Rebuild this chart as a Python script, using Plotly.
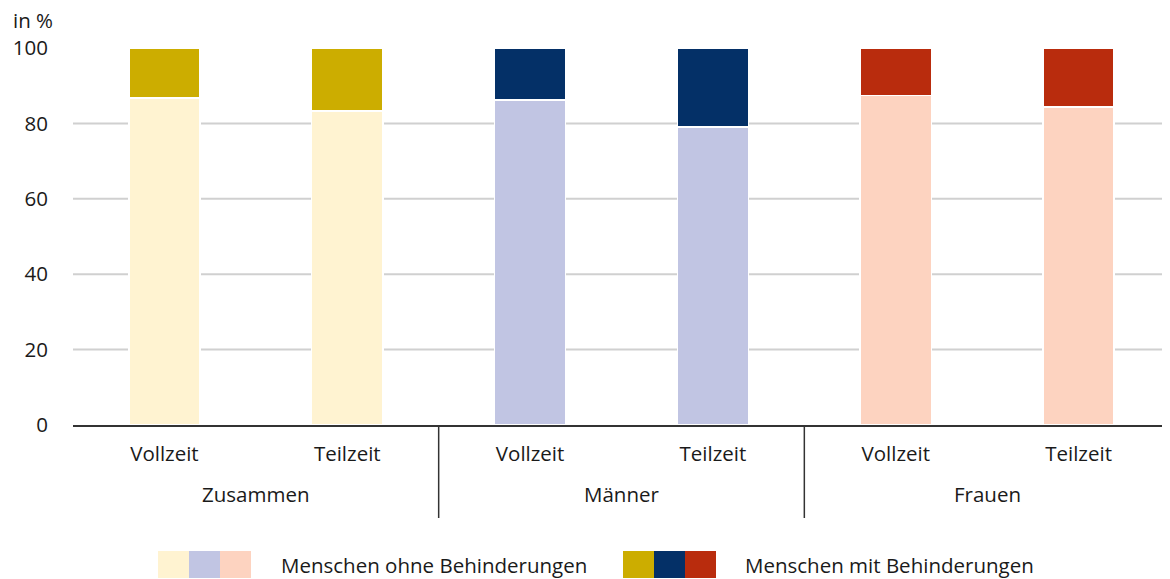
import plotly.graph_objects as go

# ---- data ----
groups = ["Zusammen", "Männer", "Frauen"]
types = ["Vollzeit", "Teilzeit"]
ohne = [86.7, 83.3, 86.2, 79.0, 87.4, 84.4]   # Menschen ohne Behinderungen
mit = [13.3, 16.7, 13.8, 21.0, 12.6, 15.6]    # Menschen mit Behinderungen
y_ticks = [0, 20, 40, 60, 80, 100]
grid_vals = [20, 40, 60, 80]
legend_labels = ["Menschen ohne Behinderungen", "Menschen mit Behinderungen"]

light_cols = ["#FFF3D1", "#C1C5E3", "#FDD3C0"]
dark_cols = ["#CCAD00", "#043067", "#B92C0D"]

OFF = 8  # browser body margin
W, H = 1170 - OFF, 579 - OFF
ML, MR, MT, MB = 73 - OFF, 0, 48 - OFF, 154
PW, PH = W - ML - MR, H - MT - MB

def px(xp):
    return (xp - OFF - ML) / PW

def py(yp):
    return (H - MB - (yp - OFF)) / PH

FONT = "Open Sans"
TXT = "#1a1a1a"
FS = 20.5

xs = list(range(len(groups) * len(types)))
xlabels = [t for g in groups for t in types]
col_light = [light_cols[i // 2] for i in xs]
col_dark = [dark_cols[i // 2] for i in xs]

fig = go.Figure()
fig.add_trace(go.Bar(x=xs, y=ohne, marker=dict(color=col_light, line=dict(color="white", width=1.5)),
                     width=0.39, name=legend_labels[0], showlegend=False))
fig.add_trace(go.Bar(x=xs, y=mit, marker=dict(color=col_dark, line=dict(color="white", width=1.5)),
                     width=0.39, name=legend_labels[1], showlegend=False))

shapes = []
for g in grid_vals:
    shapes.append(dict(type="line", xref="paper", yref="y", x0=0, x1=1, y0=g, y1=g,
                       line=dict(color="#D0D0D0", width=2), layer="below"))
# group dividers
for b in [1.5, 3.5]:
    shapes.append(dict(type="line", xref="x", yref="paper", x0=b, x1=b, y0=0, y1=py(518),
                       line=dict(color="#333333", width=1.5)))
# legend swatches
sw = 31
for gi, (cols, x0) in enumerate([(light_cols, 158), (dark_cols, 623)]):
    for k, c in enumerate(cols):
        shapes.append(dict(type="rect", xref="paper", yref="paper",
                           x0=px(x0 + k * sw), x1=px(x0 + (k + 1) * sw),
                           y0=py(578), y1=py(551), fillcolor=c, line=dict(width=0)))

annotations = []
for gi, g in enumerate(groups):
    annotations.append(dict(x=gi * 2 + 0.5, xref="x", y=py(494), yref="paper", text=g, showarrow=False,
                            xanchor="center", yanchor="middle", font=dict(family=FONT, size=FS, color=TXT)))
annotations.append(dict(x=px(11), xref="paper", y=py(20), yref="paper", text="in %", showarrow=False,
                        xanchor="left", yanchor="middle", font=dict(family=FONT, size=FS, color=TXT)))
for lab, x0 in zip(legend_labels, [279, 743]):
    annotations.append(dict(x=px(x0), xref="paper", y=py(565), yref="paper", text=lab, showarrow=False,
                            xanchor="left", yanchor="middle", font=dict(family=FONT, size=FS, color=TXT)))

fig.update_layout(
    width=W, height=H, barmode="stack", bargap=0.6,
    margin=dict(l=ML, r=MR, t=MT, b=MB, pad=0),
    plot_bgcolor="white", paper_bgcolor="white",
    shapes=shapes, annotations=annotations,
    font=dict(family=FONT, size=FS, color=TXT),
    xaxis=dict(tickmode="array", tickvals=xs, ticktext=xlabels, range=[-0.5, 5.5],
               showgrid=False, zeroline=False, showline=True, linecolor="#333333", linewidth=2,
               ticks="", ticklabelstandoff=9, tickfont=dict(family=FONT, size=FS, color=TXT),
               fixedrange=True),
    yaxis=dict(tickmode="array", tickvals=y_ticks, range=[0, 100], showgrid=False, zeroline=False,
               showline=False, ticks="", ticklabelstandoff=24,
               tickfont=dict(family=FONT, size=FS, color=TXT), fixedrange=True),
)
fig.write_html("out.html")
